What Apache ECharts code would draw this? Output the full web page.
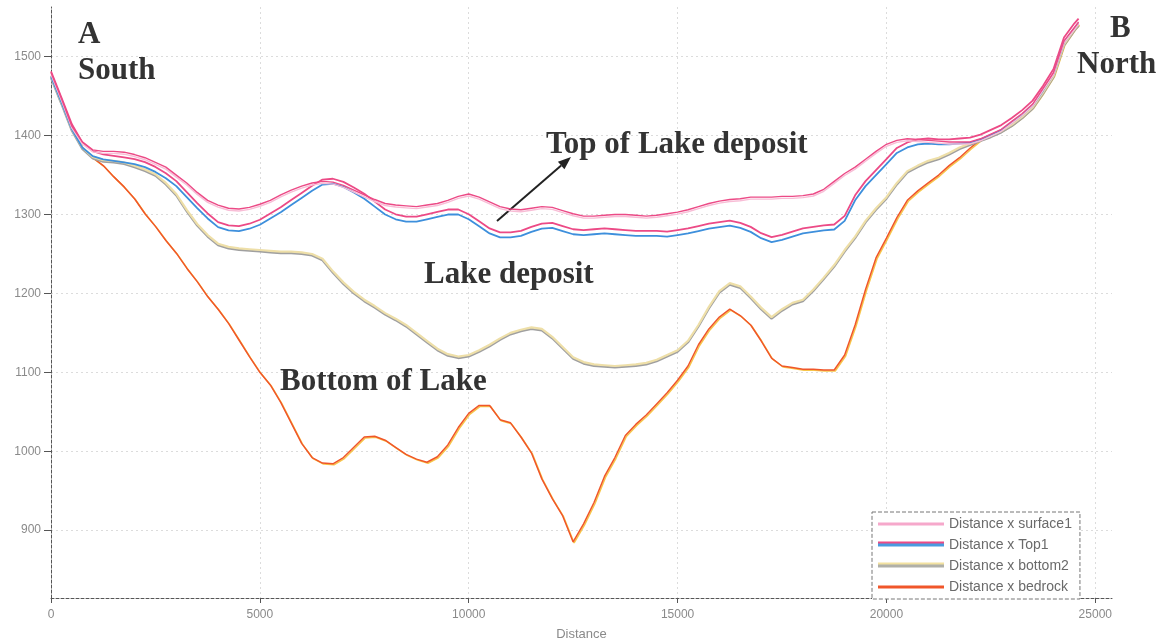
<!DOCTYPE html>
<html>
<head>
<meta charset="utf-8">
<script src="https://cdn.jsdelivr.net/npm/echarts@6/dist/echarts.min.js"></script>
<style>
  html, body { margin: 0; padding: 0; background: #fff; }
  #chart { width: 1168px; height: 642px; }
</style>
</head>
<body>
<div id="chart"></div>
<script>
// Profile A (South) to B (North): elevation of each surface along distance (m)
const distance = [
  0, 250, 500, 750, 1000, 1250, 1500, 1750, 2000, 2250,
  2500, 2750, 3000, 3250, 3500, 3750, 4000, 4250, 4500, 4750,
  5000, 5250, 5500, 5750, 6000, 6250, 6500, 6750, 7000, 7250,
  7500, 7750, 8000, 8250, 8500, 8750, 9000, 9250, 9500, 9750,
  10000, 10250, 10500, 10750, 11000, 11250, 11500, 11750, 12000, 12250,
  12500, 12750, 13000, 13250, 13500, 13750, 14000, 14250, 14500, 14750,
  15000, 15250, 15500, 15750, 16000, 16250, 16500, 16750, 17000, 17250,
  17500, 17750, 18000, 18250, 18500, 18750, 19000, 19250, 19500, 19750,
  20000, 20250, 20500, 20750, 21000, 21250, 21500, 21750, 22000, 22250,
  22500, 22750, 23000, 23250, 23500, 23750, 24000, 24250, 24500, 24600
];

const surface1 = [
  1480, 1447, 1412, 1392, 1382, 1380, 1380, 1379, 1376, 1372,
  1366, 1360, 1350, 1340, 1328, 1318, 1312, 1308, 1307, 1309,
  1313, 1318, 1325, 1331, 1336, 1340, 1342, 1341, 1337, 1331,
  1325, 1319, 1314, 1312, 1311, 1310, 1312, 1314, 1318, 1323,
  1326, 1322, 1316, 1310, 1307, 1306, 1308, 1310, 1309, 1305,
  1301, 1298, 1298, 1299, 1300, 1300, 1299, 1298, 1299, 1301,
  1303, 1306, 1310, 1314, 1317, 1319, 1320, 1322, 1322, 1322,
  1323, 1323, 1324, 1326, 1332, 1342, 1352, 1360, 1370, 1380,
  1389, 1394, 1396, 1395, 1394, 1393, 1392, 1392, 1392, 1396,
  1402, 1408, 1418, 1428, 1440, 1460, 1480, 1520, 1537, 1544
];

const top1 = [
  1475, 1442, 1408, 1385, 1374, 1370, 1368, 1366, 1364, 1360,
  1354, 1346, 1336, 1322, 1308, 1295, 1284, 1280, 1279, 1282,
  1287, 1295, 1303, 1312, 1321, 1330, 1338, 1339, 1335, 1328,
  1320, 1310, 1300, 1294, 1291, 1291, 1294, 1297, 1300, 1300,
  1294, 1285, 1276, 1271, 1271, 1273, 1278, 1282, 1283, 1279,
  1275, 1274, 1275, 1276, 1275, 1274, 1273, 1273, 1273, 1272,
  1274, 1276, 1279, 1282, 1284, 1286, 1283, 1278, 1270, 1265,
  1268, 1272, 1276, 1278, 1280, 1281, 1292, 1318, 1336, 1350,
  1364, 1378, 1385, 1389, 1390, 1389, 1389, 1390, 1391, 1395,
  1401, 1407, 1416, 1426, 1438, 1457, 1478, 1518, 1536, 1542
];

const bottom2 = [
  1475, 1442, 1408, 1385, 1373, 1369, 1368, 1366, 1362, 1357,
  1351, 1340, 1326, 1306, 1288, 1274, 1263, 1259, 1257, 1256,
  1255, 1254, 1253, 1253, 1252, 1250, 1244, 1228, 1214, 1202,
  1192, 1184, 1175, 1168, 1160, 1150, 1140, 1130, 1123, 1120,
  1122, 1128, 1135, 1143, 1150, 1154, 1157, 1155, 1145, 1132,
  1119, 1113, 1110, 1109, 1108, 1109, 1110, 1112, 1116, 1122,
  1128, 1140, 1160, 1183, 1203, 1213, 1209, 1196, 1182, 1170,
  1180, 1188, 1192, 1205, 1220, 1236, 1255, 1272, 1292, 1308,
  1322, 1340, 1355, 1362, 1368, 1372, 1378, 1385, 1390, 1395,
  1400, 1406, 1414, 1424, 1436, 1455, 1476, 1516, 1535, 1541
];

const bedrock = [
  1475, 1442, 1408, 1385, 1372, 1362, 1348, 1335, 1320, 1301,
  1285, 1267, 1251, 1232, 1215, 1196, 1180, 1162, 1141, 1120,
  1100, 1084, 1062, 1036, 1010, 992, 985, 984, 992, 1005,
  1018, 1019, 1014, 1005, 996, 990, 986, 993, 1008, 1030,
  1048, 1058, 1058, 1040, 1036, 1018, 998, 965, 940, 918,
  885, 908, 935, 968, 992, 1020, 1034, 1046, 1060, 1074,
  1090, 1108, 1135, 1155, 1170, 1180, 1172, 1160, 1140, 1118,
  1108, 1106, 1104, 1104, 1103, 1103, 1122, 1160, 1205, 1245,
  1270, 1296, 1318, 1330, 1340, 1350, 1362, 1372, 1384, 1395,
  1400, 1406, 1414, 1424, 1436, 1455, 1476, 1516, 1535, 1541
];

const xTicks = [0, 5000, 10000, 15000, 20000, 25000];
const yTicks = [900, 1000, 1100, 1200, 1300, 1400, 1500];

const pair = vals => distance.map((d, i) => [d, vals[i]]);

const chart = echarts.init(document.getElementById('chart'), null, { renderer: 'canvas' });

const axisLineStyle = { color: '#555', width: 1, type: [3, 2] };
const gridLineStyle = { color: '#dcdcdc', width: 1, type: [2, 3] };
const tickLabel = {
  color: '#8a8a8a', fontSize: 12, fontFamily: 'Liberation Sans',
  formatter: v => String(v)
};
const serif = 'bold 31px "Liberation Serif"';

// Arrow pointing at the top-of-deposit label
function arrow(x1, y1, x2, y2) {
  const dx = x2 - x1, dy = y2 - y1, len = Math.hypot(dx, dy);
  const ux = dx / len, uy = dy / len, head = 13, half = 5;
  const bx = x2 - ux * head, by = y2 - uy * head;
  return [
    { type: 'line', shape: { x1, y1, x2: bx, y2: by }, style: { stroke: '#222', lineWidth: 2 } },
    { type: 'polygon', shape: { points: [[x2, y2], [bx - uy * half, by + ux * half], [bx + uy * half, by - ux * half]] }, style: { fill: '#222' } }
  ];
}

function label(text, x, y) {
  return { type: 'text', x, y, style: { text, font: serif, fill: '#333', verticalAlign: 'middle' }, z: 10 };
}

chart.setOption({
  animation: false,
  backgroundColor: '#fff',
  grid: { left: 51, right: 56, top: 7, bottom: 44, outerBoundsMode: 'none', containLabel: false },
  xAxis: {
    type: 'value', min: 0, max: 25400,
    name: 'Distance', nameLocation: 'middle', nameGap: 30,
    nameTextStyle: { color: '#8a8a8a', fontSize: 13, fontFamily: 'Liberation Sans' },
    axisLine: { show: true, lineStyle: axisLineStyle },
    axisTick: { show: true, length: 5, customValues: xTicks, lineStyle: { color: '#555' } },
    axisLabel: Object.assign({ customValues: xTicks, margin: 11 }, tickLabel),
    splitLine: { show: true, lineStyle: gridLineStyle }
  },
  yAxis: {
    type: 'value', min: 814, max: 1563,
    axisLine: { show: true, lineStyle: axisLineStyle },
    axisTick: { show: true, length: 7, customValues: yTicks, lineStyle: { color: '#555' } },
    axisLabel: Object.assign({ customValues: yTicks, margin: 10 }, tickLabel),
    splitLine: { show: true, lineStyle: gridLineStyle }
  },
  legend: {
    orient: 'vertical', left: 872, top: 512,
    padding: [5, 8, 5, 6], itemGap: 7, itemWidth: 66, itemHeight: 3,
    icon: 'rect',
    backgroundColor: '#fff', borderColor: '#777', borderWidth: 1, borderType: 'dashed',
    textStyle: { color: '#6a6a6a', fontSize: 14, fontFamily: 'Liberation Sans' },
    data: [
      { name: 'Distance x surface1', itemStyle: { color: '#f6a8cb' } },
      { name: 'Distance x Top1', itemStyle: { color: '#4a9be0', shadowColor: '#ec4a86', shadowOffsetY: -2, shadowBlur: 0 } },
      { name: 'Distance x bottom2', itemStyle: { color: '#b0b0a8', shadowColor: '#f3e2a0', shadowOffsetY: -2, shadowBlur: 0 } },
      { name: 'Distance x bedrock', itemStyle: { color: '#f0562a' } }
    ]
  },
  series: [
    {
      name: 'Distance x bedrock', type: 'line', data: pair(bedrock),
      showSymbol: false, symbol: 'none', color: '#f0562a', z: 2,
      lineStyle: { width: 1.5, color: '#f0562a', shadowColor: '#f7c64a', shadowOffsetX: 1, shadowOffsetY: 1, shadowBlur: 0 }
    },
    {
      name: 'Distance x bottom2', type: 'line', data: pair(bottom2),
      showSymbol: false, symbol: 'none', color: '#b0b0a8', z: 3,
      lineStyle: { width: 2.2, color: '#eedfa8', shadowColor: '#a0a0a0', shadowOffsetY: 1.5, shadowBlur: 0 }
    },
    {
      name: 'Distance x Top1', type: 'line', data: pair(top1),
      showSymbol: false, symbol: 'none', color: '#4a9be0', z: 4,
      lineStyle: { width: 1.8, color: '#3d8fdc', shadowColor: '#ec4a86', shadowOffsetY: -5, shadowBlur: 0 }
    },
    {
      name: 'Distance x surface1', type: 'line', data: pair(surface1),
      showSymbol: false, symbol: 'none', color: '#f6a8cb', z: 5,
      lineStyle: { width: 1.4, color: '#ec4a86', shadowColor: '#f8bdd6', shadowOffsetY: 2, shadowBlur: 0 }
    }
  ],
  graphic: [
    label('A', 78, 35),
    label('South', 78, 71),
    label('B', 1110, 29),
    label('North', 1077, 65),
    label('Top of Lake deposit', 546, 145),
    label('Lake deposit', 424, 275),
    label('Bottom of Lake', 280, 382)
  ].concat(arrow(497, 221, 571, 157))
});
</script>
</body>
</html>
